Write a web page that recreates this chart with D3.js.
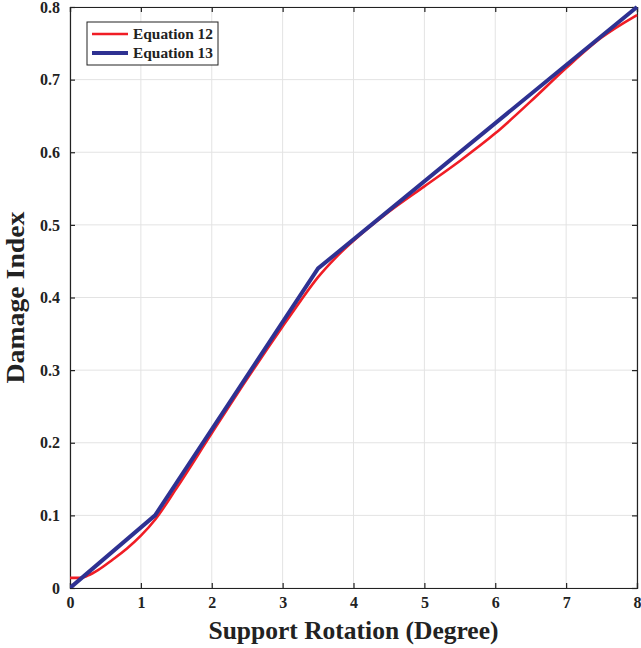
<!DOCTYPE html>
<html>
<head>
<meta charset="utf-8">
<script src="https://cdn.jsdelivr.net/npm/d3@7"></script>
<style>
  html, body { margin: 0; padding: 0; background: #fff; }
  svg { display: block; font-family: "Liberation Serif", "DejaVu Serif", serif; }
</style>
</head>
<body>
<svg id="chart" width="641" height="648"></svg>
<script>
// Support rotation (degree) and damage index for both equations
const eq12X = [0, 0.15, 0.25, 0.4, 0.6, 0.8, 1.0, 1.2, 1.5, 2.0, 2.5, 3.0, 3.25, 3.5, 3.75, 4.0, 4.5, 5.0, 5.5, 6.0, 6.5, 7.0, 7.5, 8.0];
const eq12Y = [0.014, 0.014, 0.017, 0.025, 0.039, 0.054, 0.072, 0.094, 0.137, 0.213, 0.288, 0.36, 0.395, 0.428, 0.455, 0.478, 0.518, 0.553, 0.588, 0.626, 0.67, 0.716, 0.758, 0.789];
const eq13X = [0, 1.2, 3.5, 8.0];
const eq13Y = [0, 0.1, 0.44, 0.8];
const xTicks = [0, 1, 2, 3, 4, 5, 6, 7, 8];
const yTicks = [0, 0.1, 0.2, 0.3, 0.4, 0.5, 0.6, 0.7, 0.8];
const seriesNames = ["Equation 12", "Equation 13"];

const svg = d3.select("#chart");
const m = { left: 70, right: 4, top: 7, bottom: 60 };
const W = 641, H = 648;
const x = d3.scaleLinear().domain([0, 8]).range([m.left, W - m.right]);
const y = d3.scaleLinear().domain([0, 0.8]).range([H - m.bottom, m.top]);

// grid
const grid = svg.append("g");
grid.selectAll(".gx").data(xTicks).join("line")
  .attr("x1", d => x(d)).attr("x2", d => x(d))
  .attr("y1", y(0)).attr("y2", y(0.8))
  .attr("stroke", "#e3e3e3").attr("stroke-width", 1);
grid.selectAll(".gy").data(yTicks).join("line")
  .attr("y1", d => y(d)).attr("y2", d => y(d))
  .attr("x1", x(0)).attr("x2", x(8))
  .attr("stroke", "#e3e3e3").attr("stroke-width", 1);

// axes (ticks drawn inward on all sides)
const fmtY = d => d === 0 ? "0" : d3.format(".1f")(d);
const axB = svg.append("g").attr("transform", `translate(0,${y(0)})`)
  .call(d3.axisBottom(x).tickValues(xTicks).tickSize(-5).tickPadding(9).tickFormat(d3.format("d")));
const axT = svg.append("g").attr("transform", `translate(0,${y(0.8)})`)
  .call(d3.axisTop(x).tickValues(xTicks).tickSize(-5).tickFormat(""));
const axL = svg.append("g").attr("transform", `translate(${x(0)},0)`)
  .call(d3.axisLeft(y).tickValues(yTicks).tickSize(-5).tickPadding(10).tickFormat(fmtY));
const axR = svg.append("g").attr("transform", `translate(${x(8)},0)`)
  .call(d3.axisRight(y).tickValues(yTicks).tickSize(-5).tickFormat(""));
[axB, axT, axL, axR].forEach(a => {
  a.select(".domain").attr("stroke", "#222").attr("stroke-width", 1.2);
  a.selectAll(".tick line").attr("stroke", "#222").attr("stroke-width", 1.2);
  a.selectAll("text").attr("font-family", "Liberation Serif, DejaVu Serif, serif")
    .attr("font-size", 16).attr("font-weight", "bold").attr("fill", "#222");
});

// lines
const clipId = "plotclip";
svg.append("clipPath").attr("id", clipId).append("rect")
  .attr("x", x(0)).attr("y", y(0.8) - 3).attr("width", x(8) - x(0) + 2).attr("height", y(0) - y(0.8) + 3);

const line12 = d3.line().x(d => x(d[0])).y(d => y(d[1])).curve(d3.curveMonotoneX);
const line13 = d3.line().x(d => x(d[0])).y(d => y(d[1]));

svg.append("path").datum(eq12X.map((v, i) => [v, eq12Y[i]]))
  .attr("d", line12).attr("fill", "none").attr("stroke", "#f01d25").attr("stroke-width", 2.6)
  .attr("clip-path", `url(#${clipId})`);
svg.append("path").datum(eq13X.map((v, i) => [v, eq13Y[i]]))
  .attr("d", line13).attr("fill", "none").attr("stroke", "#2e3192").attr("stroke-width", 4)
  .attr("clip-path", `url(#${clipId})`);

// legend
const lg = svg.append("g").attr("transform", "translate(87,22)");
lg.append("rect").attr("width", 131).attr("height", 43)
  .attr("fill", "#fff").attr("stroke", "#222").attr("stroke-width", 1);
const lcol = ["#f01d25", "#2e3192"];
const lw = [2.6, 4];
seriesNames.forEach((n, i) => {
  const yy = 12 + i * 19;
  lg.append("line").attr("x1", 5).attr("x2", 41).attr("y1", yy).attr("y2", yy)
    .attr("stroke", lcol[i]).attr("stroke-width", lw[i]);
  lg.append("text").attr("x", 46).attr("y", yy + 5).text(n)
    .attr("font-size", 15).attr("font-weight", "bold").attr("fill", "#222")
    .attr("textLength", 80).attr("lengthAdjust", "spacingAndGlyphs");
});

// axis titles
svg.append("text").attr("x", (x(0) + x(8)) / 2).attr("y", 639)
  .attr("text-anchor", "middle").attr("font-size", 25).attr("font-weight", "bold").attr("fill", "#222")
  .attr("textLength", 290).attr("lengthAdjust", "spacingAndGlyphs")
  .text("Support Rotation (Degree)");
svg.append("text").attr("transform", `translate(24,${(y(0) + y(0.8)) / 2}) rotate(-90)`)
  .attr("text-anchor", "middle").attr("font-size", 25).attr("font-weight", "bold").attr("fill", "#222")
  .attr("textLength", 172).attr("lengthAdjust", "spacingAndGlyphs")
  .text("Damage Index");
</script>
</body>
</html>
